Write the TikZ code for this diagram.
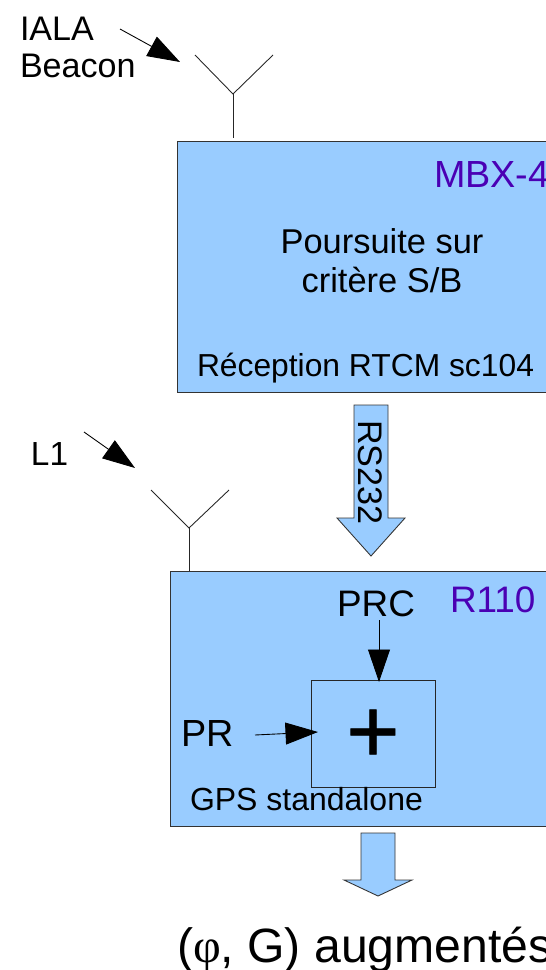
\documentclass[tikz,border=0pt]{standalone}
\usepackage{fontspec}
\setmainfont{Liberation Sans}
\newfontfamily\phifont{Liberation Serif}
\newfontfamily\plusfont[FakeBold=0.7]{Liberation Sans}
\usetikzlibrary{arrows.meta}
\definecolor{boxblue}{HTML}{99CCFF}
\definecolor{labelviolet}{HTML}{4A00B4}
\tikzset{
  txt/.style={anchor=base west,inner sep=0pt,outer sep=0pt,text=black},
  blockbox/.style={draw=black!80,fill=boxblue,line width=0.5pt},
  wire/.style={draw=black!85,line width=0.5pt},
  sig/.style={draw=black,line width=0.5pt,-{Triangle[length=18.5pt,width=12.5pt]}},
}
\begin{document}
\begin{tikzpicture}[x=0.02cm,y=-0.02cm]
\useasboundingbox (0,0) rectangle (546,970);
\clip (0,0) rectangle (546,970);

% reception boxes
\draw[blockbox] (177,141) rectangle (560,392);
\draw[blockbox] (170,571) rectangle (560,826);
\draw[wire] (311,680) rectangle (435,787);

% antennas
\coordinate (a1) at (233,94);
\coordinate (a2) at (189,528);
\draw[wire] (195,55) -- (a1) -- (273,55);
\draw[wire] (a1) -- (233,138);
\draw[wire] (151,490) -- (a2) -- (229,490);
\draw[wire] (a2) -- (189,571);

% block arrows
\draw[blockbox] (354,405) -- (388,405) -- (388,518) -- (405,518) -- (371,556)
  -- (337,518) -- (354,518) -- cycle;
\draw[blockbox] (361,833) -- (395,833) -- (395,880) -- (412,880) -- (378,896)
  -- (344,880) -- (361,880) -- cycle;

% labels
\node[txt,font=\fontsize{19.4}{20}\selectfont] (iala) at (20,40) {IALA};
\node[txt,font=\fontsize{19.4}{20}\selectfont] (beacon) at (20,77) {Beacon};
\node[txt,font=\fontsize{19}{20}\selectfont] (l1) at (31,465) {L1};
\node[txt,font=\fontsize{21.5}{20}\selectfont,text=labelviolet] (mbx) at (434,187) {MBX-4};
\node[txt,font=\fontsize{19.6}{20}\selectfont,anchor=base] (pours) at (382,253) {Poursuite sur};
\node[txt,font=\fontsize{19.6}{20}\selectfont,anchor=base] (crit) at (382,292) {critère S/B};
\node[txt,font=\fontsize{18.1}{20}\selectfont] (rtcm) at (197,376) {Réception RTCM sc104};
\node[txt,font=\fontsize{19.4}{20}\selectfont,rotate=-90,anchor=base west] (rs) at (358,420) {RS232};
\node[txt,font=\fontsize{21}{20}\selectfont] (prc) at (337,616) {PRC};
\node[txt,font=\fontsize{21}{20}\selectfont,text=labelviolet] (r110) at (450,612) {R110};
\node[txt,font=\fontsize{21.5}{20}\selectfont] (pr) at (181,746) {PR};
\node[txt,font=\fontsize{18.2}{20}\selectfont] (gps) at (190,810) {GPS standalone};
\node[font=\fontsize{52}{52}\plusfont,inner sep=0pt] (plus) at (373,736) {+};
\node[txt,font=\fontsize{27.4}{24}\selectfont] (res) at (177,962) {({\phifont φ}, G) augmentés};

% signal arrows
\coordinate (s1) at (120,29);
\coordinate (s2) at (180,62);
\coordinate (s3) at (84,432);
\coordinate (s4) at (135,468);
\coordinate (s5) at (379,620);
\coordinate (s6) at (379,682);
\coordinate (s7) at (255,735);
\coordinate (s8) at (318,732);
\draw[sig] (s1) -- (s2);
\draw[sig] (s3) -- (s4);
\draw[sig] (s5) -- (s6);
\draw[sig] (s7) -- (s8);
\end{tikzpicture}
\end{document}
